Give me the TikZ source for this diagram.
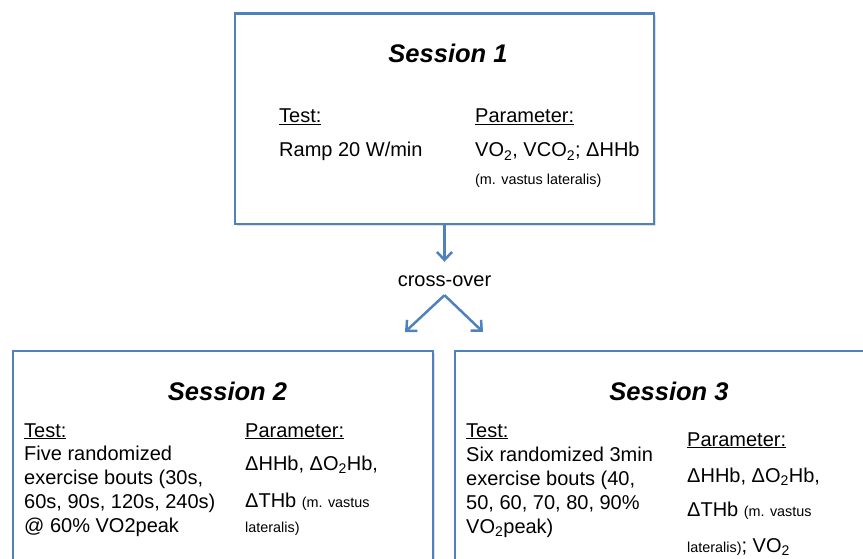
\documentclass[tikz,border=0pt]{standalone}
\usepackage{fontspec}
\setmainfont{Liberation Sans}
\usetikzlibrary{arrows.meta,positioning,shadows}

\definecolor{boxblue}{RGB}{79,129,189}
\newcommand{\muscle}[1]{{\fontsize{14.4}{17}\selectfont #1}}

\begin{document}
\begin{tikzpicture}[
    x=1pt, y=-1pt,
    session/.style={draw=boxblue, line width=2.5pt, fill=white, inner sep=0pt,
                    drop shadow={shadow xshift=1.5pt, shadow yshift=-1.5pt, opacity=0.25}},
    title/.style={font=\fontsize{25.5}{30}\selectfont\bfseries\itshape, anchor=base, inner sep=0pt},
    txt/.style={font=\fontsize{20}{23.7}\selectfont, anchor=base west, inner sep=0pt, align=left},
    arr/.style={draw=boxblue, line width=2.5pt,
                -{Straight Barb[length=8pt, width=15pt]}}
]
\path[use as bounding box] (0,0) rectangle (863,559);
\clip (0,0) rectangle (863,559);

% session boxes
\node[session, minimum width=419pt, minimum height=210.5pt] (s1) at (444.5,119) {};
\node[session, minimum width=420pt, minimum height=269pt] (s2) at (223,485.5) {};
\node[session, minimum width=420pt, minimum height=269pt] (s3) at (665,485.5) {};

% session 1
\node[title] (t1) at (448,63) {Session 1};
\node[txt] (test1) at (279,123) {\underline{Test:}};
\node[txt] (ramp) at (279,157) {Ramp 20 W/min};
\node[txt] (par1) at (475,123) {\underline{Parameter:}};
\node[txt] (vo1) at (475,157) {VO\textsubscript{2}, VCO\textsubscript{2}; ΔHHb};
\node[txt] (mvl1) at (475,185) {\muscle{(m. vastus lateralis)}};

% session 2 (multi-line nodes sit on their last line)
\node[title] (t2) at (227.5,400) {Session 2};
\node[txt] (test2) at (24,437) {\underline{Test:}};
\node[txt] (bouts2) at (24,532) {Five randomized\\exercise bouts (30s,\\60s, 90s, 120s, 240s)\\@ 60\% VO2peak};
\node[txt] (par2) at (245,437) {\underline{Parameter:}};
\node[txt] (hb2) at (245,470) {ΔHHb, ΔO\textsubscript{2}Hb,};
\node[txt] (thb2) at (245,507) {ΔTHb \muscle{(m. vastus}};
\node[txt] (mvl2) at (245,532) {\muscle{lateralis)}};

% session 3
\node[title] (t3) at (669,400) {Session 3};
\node[txt] (test3) at (466,437) {\underline{Test:}};
\node[txt] (bouts3) at (466,533) {Six randomized 3min\\exercise bouts (40,\\50, 60, 70, 80, 90\%\\VO\textsubscript{2}peak)};
\node[txt] (par3) at (687,446) {\underline{Parameter:}};
\node[txt] (hb3) at (687,482) {ΔHHb, ΔO\textsubscript{2}Hb,};
\node[txt] (thb3) at (687,516) {ΔTHb \muscle{(m. vastus}};
\node[txt] (mvl3) at (687,552) {\muscle{lateralis)}; VO\textsubscript{2}};

% cross-over
\node[txt, anchor=base, text height=25pt, text depth=8pt] (cross) at (444.5,287) {cross-over};
\coordinate (tip2) at (405,332);
\coordinate (tip3) at (483,332);

\draw[arr] (s1.south) -- (cross.north);
\draw[arr] (cross.south) -- (tip2);
\draw[arr] (cross.south) -- (tip3);
\end{tikzpicture}
\end{document}
